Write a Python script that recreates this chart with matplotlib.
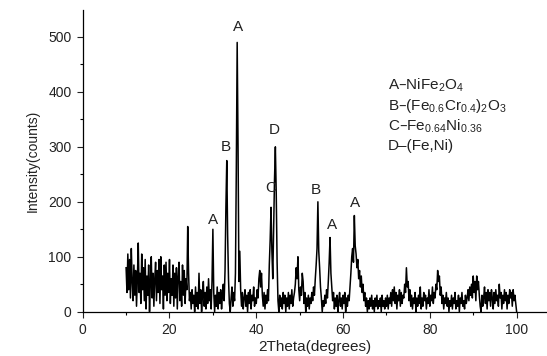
import numpy as np
import matplotlib
matplotlib.use('Agg')
import matplotlib.pyplot as plt

plt.rcParams['font.family'] = ['Liberation Sans', 'DejaVu Sans']
plt.rcParams['mathtext.default'] = 'regular'

step = 0.2
counts_10 = [80, 35, 105, 40, 95, 25, 115, 55, 20, 85,
             30, 75, 10, 60, 125, 35, 70, 15, 105, 40,
             80, 20, 95, 5, 65, 30, 85, 0, 55, 100,
             25, 70, 10, 60, 90, 20, 75, 35, 95, 15,
             100, 40, 65, 5, 85, 30, 90, 20, 70, 35]
counts_20 = [95, 15, 60, 30, 85, 10, 70, 25, 80, 5,
             65, 90, 20, 55, 10, 85, 30, 75, 15, 60,
             40, 155, 70, 20, 35, 5, 40, 15, 30, 0,
             45, 10, 35, 5, 70, 15, 40, 0, 30, 55,
             10, 35, 5, 45, 15, 60, 20, 40, 5, 55]
counts_30 = [150, 35, 0, 30, 10, 45, 5, 35, 15, 40,
             5, 30, 50, 20, 75, 190, 275, 140, 60, 15,
             0, 25, 45, 10, 35, 20, 70, 260, 490, 300,
             55, 110, 40, 10, 35, 5, 25, 40, 10, 30,
             0, 35, 15, 40, 5, 30, 20, 45, 10, 25]
counts_40 = [15, 40, 25, 60, 75, 45, 70, 30, 10, 35,
             5, 30, 15, 40, 20, 85, 130, 190, 110, 60,
             150, 240, 300, 215, 90, 20, 0, 30, 10, 25,
             5, 35, 15, 30, 0, 25, 10, 35, 5, 30,
             15, 40, 10, 25, 35, 50, 80, 60, 100, 40]
counts_50 = [20, 45, 30, 70, 55, 15, 35, 0, 25, 10,
             30, 5, 25, 15, 35, 20, 45, 30, 60, 85,
             115, 200, 110, 80, 45, 25, 0, 20, 10, 30,
             15, 40, 25, 55, 90, 135, 70, 45, 20, 35,
             5, 25, 10, 30, 0, 20, 35, 10, 25, 5]
counts_60 = [30, 15, 35, 0, 25, 10, 30, 20, 45, 70,
             100, 115, 90, 175, 120, 105, 80, 95, 60, 75,
             45, 65, 35, 50, 20, 35, 10, 25, 0, 20,
             5, 25, 10, 30, 5, 20, 0, 25, 10, 30,
             5, 20, 10, 25, 0, 30, 10, 20, 5, 25]
counts_70 = [10, 30, 5, 25, 15, 35, 10, 40, 20, 45,
             15, 35, 5, 30, 20, 40, 10, 35, 15, 30,
             25, 50, 35, 80, 45, 55, 20, 40, 10, 30,
             5, 25, 15, 35, 0, 25, 10, 30, 15, 45,
             5, 25, 10, 35, 20, 30, 5, 25, 15, 40]
counts_80 = [10, 30, 20, 45, 15, 35, 25, 50, 40, 75,
             55, 65, 30, 45, 15, 30, 5, 25, 15, 35,
             10, 25, 0, 20, 10, 30, 5, 25, 15, 35,
             5, 20, 10, 30, 0, 25, 15, 35, 10, 20,
             5, 30, 15, 25, 40, 20, 45, 30, 50, 25]
counts_90 = [65, 35, 55, 20, 65, 40, 55, 30, 10, 0,
             30, 10, 25, 45, 15, 35, 5, 40, 20, 35,
             10, 40, 25, 5, 35, 15, 40, 20, 30, 10,
             50, 25, 35, 5, 30, 15, 40, 20, 35, 5,
             30, 15, 40, 25, 35, 10, 40, 20, 30, 15,
             0]

segments = [(10, counts_10), (20, counts_20), (30, counts_30),
            (40, counts_40), (50, counts_50), (60, counts_60),
            (70, counts_70), (80, counts_80), (90, counts_90)]

# peak labels
peak_x = [30.0, 33.0, 35.7, 43.3, 44.1, 53.8, 57.4, 62.8]
peak_y = [167, 300, 518, 226, 330, 221, 157, 197]
peak_labels = ['A', 'B', 'A', 'C', 'D', 'B', 'A', 'A']

phase_text = ['A–NiFe$_{2}$O$_{4}$',
              'B–(Fe$_{0.6}$Cr$_{0.4}$)$_{2}$O$_{3}$',
              'C–Fe$_{0.64}$Ni$_{0.36}$',
              'D–(Fe,Ni)']

two_theta = np.concatenate([start + step * np.arange(len(c)) for start, c in segments])
intensity = np.concatenate([c for _, c in segments])

fig = plt.figure(figsize=(5.47, 3.56), dpi=100)
ax = fig.add_axes([0.1512, 0.1244, 0.8488, 0.8475])
ax.plot(two_theta, intensity, color='black', lw=1.1)

ax.set_xlim(0, 107)
ax.set_ylim(0, 549)
ax.spines['top'].set_visible(False)
ax.spines['right'].set_visible(False)
ax.set_xticks([0, 20, 40, 60, 80, 100])
ax.set_xticks([10, 30, 50, 70, 90], minor=True)
ax.set_yticks([0, 100, 200, 300, 400, 500])
ax.set_yticks([50, 150, 250, 350, 450], minor=True)
ax.tick_params(which='major', direction='out', length=4.5, width=0.8,
               labelsize=10, colors='#222222')
ax.tick_params(which='minor', direction='out', length=2.5, width=0.8)
for sp in ax.spines.values():
    sp.set_linewidth(0.9)

ax.set_xlabel('2Theta(degrees)', fontsize=11, labelpad=2, color='#222222')
ax.set_ylabel('Intensity(counts)', fontsize=10, labelpad=6, color='#222222')

for px, py, lab in zip(peak_x, peak_y, peak_labels):
    ax.text(px, py, lab, ha='center', va='center', fontsize=11, color='#222222')

for i, t in enumerate(phase_text):
    ax.text(70.3, 412 - 37 * i, t, ha='left', va='center', fontsize=11, color='#222222')

fig.savefig('out.png', dpi=100)
